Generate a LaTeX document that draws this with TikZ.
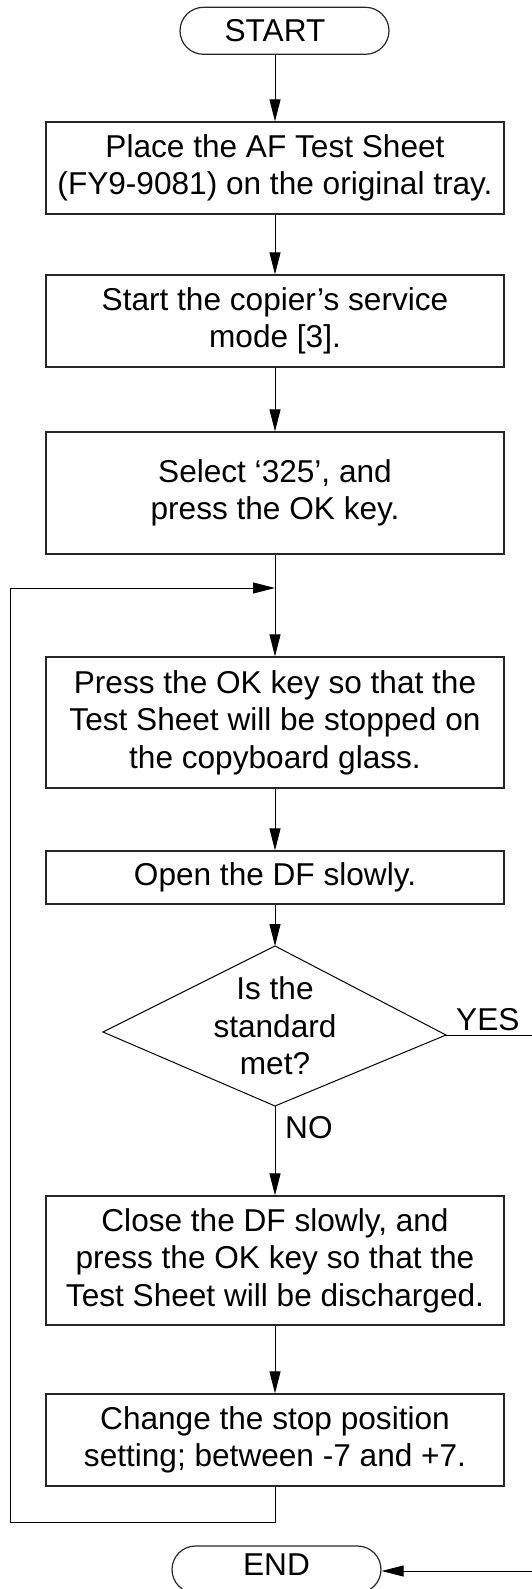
\documentclass[tikz,border=0pt]{standalone}
\usepackage{fontspec}
\setmainfont{Liberation Sans}
\usetikzlibrary{arrows.meta,shapes.misc}
\newcommand\flfont{\fontsize{31.6}{37.5}\selectfont}
\begin{document}
\begin{tikzpicture}[x=1pt,y=-1pt,
  box/.style={draw=black!85, line width=1.2pt, minimum width=458pt, inner sep=0pt, align=center, font=\flfont},
  term/.style={draw=black!85, line width=1.2pt, rounded rectangle, minimum width=209pt, minimum height=47pt, inner sep=0pt, font=\flfont},
  lbl/.style={font=\flfont, inner sep=0pt, anchor=base west},
  conn/.style={line width=1pt, -{Triangle[length=22pt,width=11pt]}},
  plain/.style={line width=1pt}]
\useasboundingbox (0,0) rectangle (532,1589);

\node[term] (start) at (284.5,30.8) {START\kern19pt\mbox{}};
\node[box, minimum height=92pt] (b1) at (275,168) {Place the AF Test Sheet\\(FY9-9081) on the original tray.};
\node[box, minimum height=92pt] (b2) at (275,321) {Start the copier’s service\\mode [3].};
\node[box, minimum height=122pt] (b3) at (275,493) {Select ‘325’, and\\press the OK key.};
\node[box, minimum height=131pt] (b4) at (275,722.5) {Press the OK key so that the\\Test Sheet will be stopped on\\the copyboard glass.};
\node[box, minimum height=53pt] (open) at (275,877.5) {Open the DF slowly.};

\coordinate (dT) at (275,946);
\coordinate (dR) at (446,1035);
\coordinate (dB) at (275,1106);
\coordinate (dL) at (103,1032);
\draw[line width=1pt] (dT) -- (dR) -- (dB) -- (dL) -- cycle;
\node[font=\flfont, align=center, inner sep=0pt] (dec) at (275,1026) {Is the\\standard\\met?};

\node[box, minimum height=129pt] (close) at (275,1260.5) {Close the DF slowly, and\\press the OK key so that the\\Test Sheet will be discharged.};
\node[box, minimum height=92pt] (change) at (275,1440) {Change the stop position\\setting; between -7 and +7.};
\node[term, text height=22.6pt, text depth=10pt] (end) at (276.5,1569.5) {END};

\node[lbl] (yes) at (456,1030) {YES};
\node[lbl] (no) at (285,1138) {NO};

\coordinate (j) at (275,588);
\coordinate (lb) at (275,1522);
\coordinate (lbl) at (10.5,1522);
\coordinate (lt) at (10.5,588);
\coordinate (yesR) at (536,1035);
\coordinate (endR) at (536,1571);

\draw[conn] (b1.north |- start.south) -- (b1.north);
\draw[conn] (b1.south) -- (b2.north);
\draw[conn] (b2.south) -- (b3.north);
\draw[conn] (b3.south) -- (b4.north);
\draw[conn] (b4.south) -- (open.north);
\draw[conn] (open.south) -- (dT);
\draw[conn] (dB) -- (close.north);
\draw[conn] (close.south) -- (change.north);
\draw[conn] (change.south) -- (lb) -- (lbl) -- (lt) -- (j);
\draw[plain] (dR) -- (yesR);
\draw[conn] (endR) -- (endR -| end.east);
\end{tikzpicture}
\end{document}
